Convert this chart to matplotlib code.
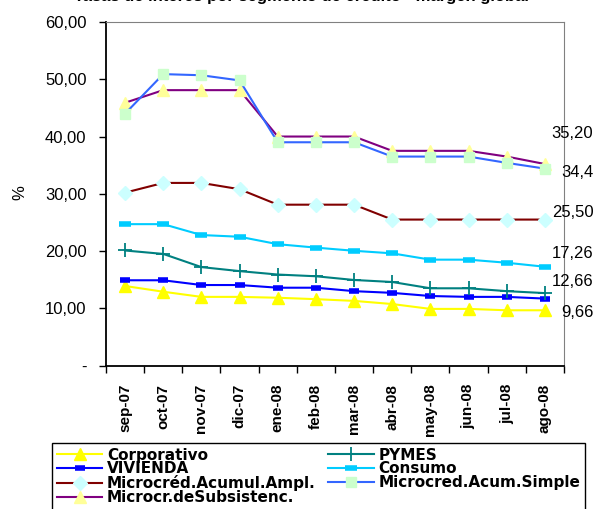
import matplotlib
matplotlib.use("Agg")
from matplotlib import pyplot as plt
from matplotlib import transforms

plt.rcParams['font.family'] = ['Liberation Sans', 'DejaVu Sans']

# data
months = ["sep-07", "oct-07", "nov-07", "dic-07", "ene-08", "feb-08",
          "mar-08", "abr-08", "may-08", "jun-08", "jul-08", "ago-08"]

corporativo = [13.9, 12.9, 12.0, 12.0, 11.85, 11.6, 11.3, 10.75, 9.9, 9.9, 9.66, 9.66]
vivienda = [14.9, 14.9, 14.07, 14.07, 13.6, 13.6, 13.0, 12.7, 12.15, 12.0, 12.0, 11.7]
pymes = [20.1, 19.5, 17.2, 16.5, 15.9, 15.6, 14.95, 14.6, 13.5, 13.5, 13.0, 12.66]
consumo = [24.7, 24.7, 22.8, 22.5, 21.2, 20.6, 20.05, 19.6, 18.5, 18.5, 17.96, 17.26]
acum_ampl = [30.2, 31.9, 31.9, 30.8, 28.1, 28.1, 28.1, 25.5, 25.5, 25.5, 25.5, 25.5]
acum_simple = [44.0, 50.9, 50.7, 49.8, 39.0, 39.0, 39.0, 36.5, 36.5, 36.5, 35.4, 34.4]
subsistencia = [45.9, 48.1, 48.1, 48.1, 40.0, 40.0, 40.0, 37.5, 37.5, 37.5, 36.5, 35.2]

end_labels = ["35,20", "34,4", "25,50", "17,26", "12,66", "9,66"]
yticks = [0, 10, 20, 30, 40, 50, 60]
ytick_labels = ["-", "10,00", "20,00", "30,00", "40,00", "50,00", "60,00"]

fig = plt.figure(figsize=(6.02, 5.09), dpi=100)
ax = fig.add_axes([106/602, 1-365.6/509, 458/602, 343.6/509])

x = list(range(len(months)))

series = [
    (corporativo, "Corporativo", dict(color="#FFFF00", marker="^", markersize=9,
                                      markerfacecolor="#FFFF00", markeredgecolor="#FFFF00")),
    (vivienda, "VIVIENDA", dict(color="#0000FF", marker="_", markersize=7,
                                markeredgewidth=4)),
    (acum_ampl, "Microcréd.Acumul.Ampl.", dict(color="#800000", marker="D", markersize=7,
                                              markerfacecolor="#CCFFFF", markeredgecolor="#CCFFFF")),
    (subsistencia, "Microcr.deSubsistenc.", dict(color="#800080", marker="^", markersize=9,
                                                 markerfacecolor="#FFFF99", markeredgecolor="#FFFF99")),
    (pymes, "PYMES", dict(color="#008080", marker="+", markersize=10,
                          markeredgewidth=1.3)),
    (consumo, "Consumo", dict(color="#00CCFF", marker="_", markersize=8,
                              markeredgewidth=4)),
    (acum_simple, "Microcred.Acum.Simple", dict(color="#3366FF", marker="s", markersize=7,
                                               markerfacecolor="#CCFFCC", markeredgecolor="#CCFFCC")),
]

for vals, name, style in series:
    ax.plot(x, vals, label=name, linewidth=1.5, **style)

ax.set_xlim(-0.5, len(months) - 0.5)
ax.set_ylim(0, 60)
ax.set_yticks(yticks)
ax.set_yticklabels(ytick_labels, fontsize=12)
ax.tick_params(axis="y", direction="out", length=5, width=1, pad=9)

ax.set_xticks(x)
ax.set_xticklabels(months, rotation=90, fontweight="bold", fontsize=11)
ax.set_xticks([i - 0.5 for i in range(len(months) + 1)], minor=True)
ax.tick_params(axis="x", which="major", length=0, pad=13)
ax.tick_params(axis="x", which="minor", direction="out", length=5, width=1)

for side in ["top", "right"]:
    ax.spines[side].set_color("#808080")
for side in ["left", "bottom"]:
    ax.spines[side].set_color("black")
    ax.spines[side].set_linewidth(1.3)

# end-of-series value labels
trans = transforms.blended_transform_factory(ax.transAxes, ax.transData)
label_y = [40.6, 33.8, 26.8, 19.65, 14.6, 9.35]
for txt, yy in zip(end_labels, label_y):
    ax.text(1.064, yy, txt, transform=trans, ha="right", va="center",
            fontsize=12, clip_on=False)

fig.text(20/602, 1-193/509, "%", rotation=90, ha="center", va="center", fontsize=12)

# title, cut off at the top of the picture
fig.text(0.5, 1 - 1/509, "Tasas de interés por segmento de crédito - margen global",
         ha="center", va="baseline", fontsize=12, fontweight="bold")

fig.legend(ncol=2,
    loc="upper left",
    bbox_to_anchor=(52/602, 1-443/509),
    frameon=True,
    fancybox=False,
    edgecolor="black",
    facecolor="white",
    framealpha=1,
    borderpad=0.3,
    handletextpad=0.3,
    columnspacing=0.8,
    handlelength=3.0,
    labelspacing=-0.08,
    borderaxespad=0,
    prop=dict(family="DejaVu Sans", weight="bold", size=11))

fig.savefig("out.png", dpi=100)
